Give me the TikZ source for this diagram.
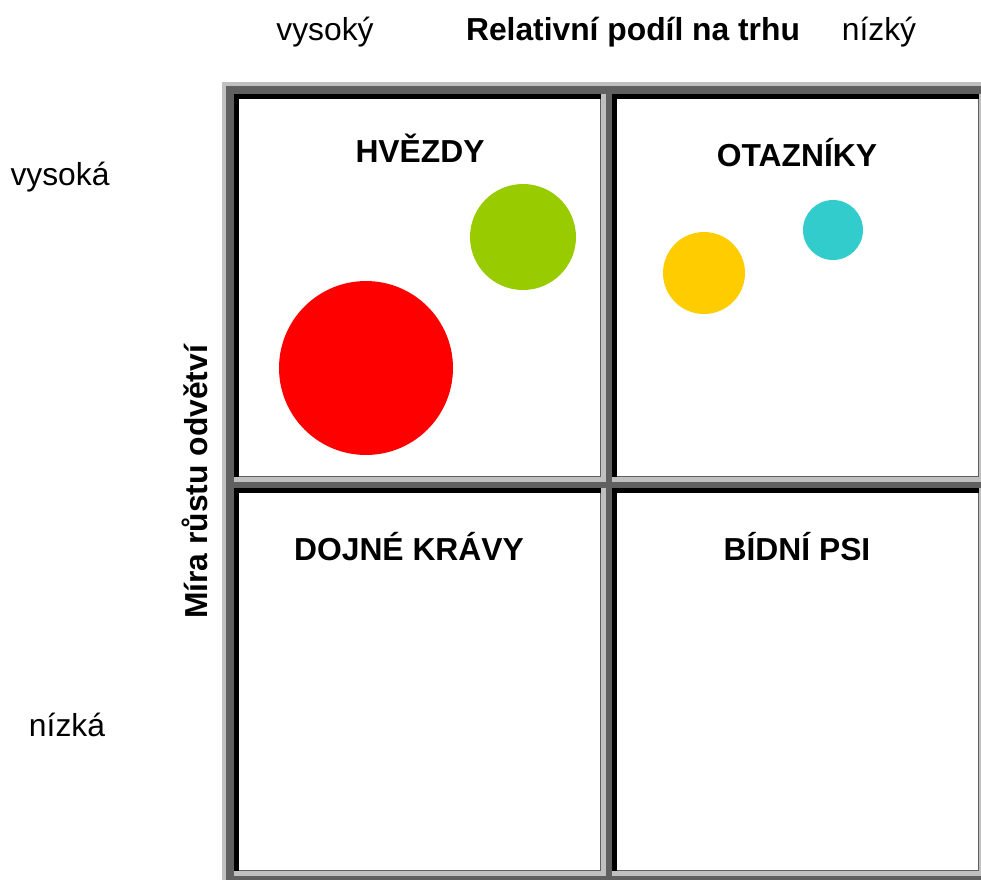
\documentclass[tikz,border=0pt]{standalone}
\usepackage{fontspec}
\setmainfont{Liberation Sans}
\usetikzlibrary{positioning,calc}
\definecolor{framegray}{RGB}{96,96,96}
\definecolor{lightframe}{RGB}{192,192,192}
\definecolor{starred}{RGB}{255,0,0}
\definecolor{stargreen}{RGB}{153,204,0}
\definecolor{askyellow}{RGB}{255,204,0}
\definecolor{askcyan}{RGB}{51,204,204}
\tikzset{cell/.style={rectangle,fill=white,minimum width=7.22cm,minimum height=7.54cm,inner sep=0pt,anchor=north west},
	title/.style={font=\fontsize{18.1}{21}\selectfont\bfseries,anchor=base,inner sep=0pt},
	axis label/.style={font=\fontsize{18.1}{21}\selectfont,anchor=base,inner sep=0pt},
	bubble/.style={circle,inner sep=0pt},}

\begin{document}
\begin{tikzpicture}[x=0.02cm, y=-0.02cm]
	\useasboundingbox (0,0) rectangle (981,880);
	% frame
	\fill[framegray] (222,82) rectangle (981,880);
	\fill[lightframe] (222,82) rectangle (981,86);
	\fill[lightframe] (222,82) rectangle (226,880);

	\node[cell] (stars) at (239,99) {};
	\node[cell] (questions) at (617,99) {};
	\node[cell] (cows) at (239,493) {};
	\node[cell] (dogs) at (617,493) {};

	\foreach \q in {stars,questions,cows,dogs} {
		\fill[black] ($(\q.north west)+(-5,-5)$) rectangle (\q.north east);
		\fill[black] ($(\q.north west)+(-5,-5)$) rectangle (\q.south west);
		\fill[lightframe] ($(\q.south west)+(-5,0)$) rectangle ($(\q.south east)+(5,5)$);
		\fill[lightframe] ($(\q.north east)+(0,-5)$) rectangle ($(\q.south east)+(5,5)$);
	}

	% quadrant titles
	\node[title] (starsT) at (420,162) {HVĚZDY};
	\node[title] (questionsT) at (797,166) {OTAZNÍKY};
	\node[title] (cowsT) at (409,560) {DOJNÉ KRÁVY};
	\node[title] (dogsT) at (797,560) {BÍDNÍ PSI};

	% axes
	\node[title] (share) at (633,40) {Relativní podíl na trhu};
	\node[axis label] (shareHigh) at (325,40) {vysoký};
	\node[axis label] (shareLow) at (879,40) {nízký};
	\node[title, rotate=90] (growth) at (207,482) {Míra růstu odvětví};
	\node[axis label] (growthHigh) at (60,185) {vysoká};
	\node[axis label] (growthLow) at (67,736) {nízká};

	% products
	\node[bubble, fill=starred, minimum size=3.48cm] (red) at (366,368) {};
	\node[bubble, fill=stargreen, minimum size=2.12cm] (green) at (523,237) {};
	\node[bubble, fill=askyellow, minimum size=1.64cm] (yellow) at (704,273) {};
	\node[bubble, fill=askcyan, minimum size=1.2cm] (cyan) at (833,230) {};
\end{tikzpicture}
\end{document}
